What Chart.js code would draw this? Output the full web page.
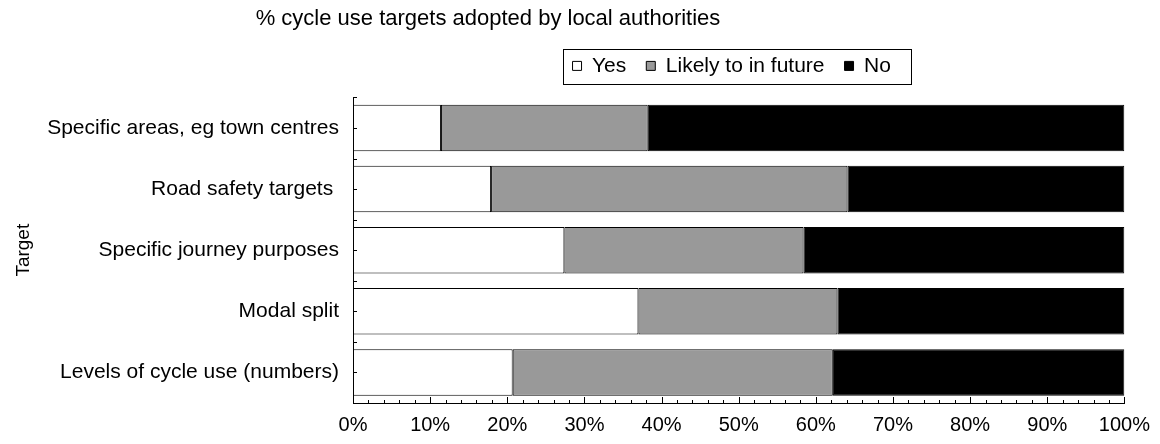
<!DOCTYPE html>
<html>
<head>
<meta charset="utf-8">
<title>Cycle use targets</title>
<script src="https://cdn.jsdelivr.net/npm/chart.js@4/dist/chart.umd.min.js"></script>
<style>
  html, body { margin: 0; padding: 0; background: #fff; }
  #wrap { width: 1160px; height: 444px; }
</style>
</head>
<body>
<div id="wrap"><canvas id="myChart" width="1160" height="444"></canvas></div>
<script>
// targets, top to bottom
const targets = [
    'Specific areas, eg town centres',
    'Road safety targets ',
    'Specific journey purposes',
    'Modal split',
    'Levels of cycle use (numbers)'
];
const yesVals = [11.4, 17.9, 27.4, 37.0, 20.7];
const likelyVals = [26.8, 46.2, 31.0, 25.8, 41.5];
const noVals = [61.8, 35.9, 41.6, 37.2, 37.8];
const pctTicks = [0, 10, 20, 30, 40, 50, 60, 70, 80, 90, 100];

const FAMILY = 'Arial, "Liberation Sans", sans-serif';
const font = size => ({ family: FAMILY, size: size, weight: 'normal' });

// excel style ticks pointing into the plot + box round the legend
const axisDecor = {
    id: 'axisDecor',
    afterLayout(chart) {
        // title sits left of centre
        const t = chart.titleBlock;
        const dx = 488 - (t.left + t.right) / 2;
        t.left += dx;
        t.right += dx;
        // legend nudged up/left inside the gap above the plot
        const lg = chart.legend;
        lg.top -= 11;
        lg.bottom -= 11;
        lg.left -= 7;
        lg.right -= 7;
    },
    afterDraw(chart) {
        const ctx = chart.ctx;
        const x = chart.scales.x, y = chart.scales.y;
        const bottom = chart.chartArea.bottom, left = chart.chartArea.left;
        ctx.save();
        ctx.strokeStyle = '#000';
        ctx.lineWidth = 1;
        ctx.beginPath();
        for (let v = 0; v <= 100; v += 2) {
            const px = Math.round(x.getPixelForValue(v)) + 0.5;
            const len = (v % 10 === 0) ? 6 : 3;
            ctx.moveTo(px, bottom);
            ctx.lineTo(px, bottom - len);
        }
        for (let i = 0; i < targets.length; i++) {
            const c = Math.round(y.getPixelForValue(i)) + 0.5;
            ctx.moveTo(left, c);
            ctx.lineTo(left + 4, c);
            const b = Math.round(y.getPixelForValue(i - 0.5)) + 0.5;
            ctx.moveTo(left, b);
            ctx.lineTo(left + 4, b);
        }
        ctx.stroke();

        const boxes = chart.legend.legendHitBoxes;
        if (boxes && boxes.length) {
            let l = Infinity, r = -Infinity, tp = Infinity, bt = -Infinity;
            boxes.forEach(h => {
                l = Math.min(l, h.left);
                r = Math.max(r, h.left + h.width);
                tp = Math.min(tp, h.top);
                bt = Math.max(bt, h.top + h.height);
            });
            const cy = (tp + bt) / 2;
            ctx.strokeRect(Math.round(l - 10) + 0.5, Math.round(cy - 17) + 0.5,
                Math.round(r - l + 30), 35);
        }
        ctx.restore();
    }
};

const ctx = document.getElementById('myChart');
const myChart = new Chart(ctx, {
    type: 'bar',
    data: {
        labels: targets,
        datasets: [
            { label: 'Yes', data: yesVals, backgroundColor: '#ffffff' },
            { label: 'Likely to in future', data: likelyVals, backgroundColor: '#999999' },
            { label: 'No', data: noVals, backgroundColor: '#000000' }
        ].map(d => Object.assign(d, {
            borderColor: '#000000',
            borderWidth: 1,
            borderSkipped: false,
            barPercentage: 0.76,
            categoryPercentage: 1
        }))
    },
    options: {
        indexAxis: 'y',
        responsive: false,
        animation: false,
        events: [],
        layout: { padding: { left: 0, right: 25, top: 0, bottom: 0 } },
        plugins: {
            title: {
                display: true,
                text: '% cycle use targets adopted by local authorities',
                color: '#000',
                font: font(22),
                padding: { top: 6, bottom: 14 }
            },
            legend: {
                display: true,
                position: 'top',
                fullSize: false,
                labels: {
                    color: '#000',
                    font: font(21),
                    boxWidth: 9,
                    boxHeight: 9,
                    padding: 20
                }
            },
            tooltip: { enabled: false }
        },
        scales: {
            x: {
                stacked: true,
                min: 0,
                max: 100,
                afterBuildTicks: s => { s.ticks = pctTicks.map(v => ({ value: v })); },
                afterFit: s => { s.height = 41; },
                grid: { display: false, drawTicks: false },
                border: { display: true, color: '#000', width: 1 },
                ticks: {
                    color: '#000',
                    font: font(20),
                    padding: 10,
                    maxRotation: 0,
                    callback: v => v + '%'
                }
            },
            y: {
                stacked: true,
                afterFit: s => { s.width = 353; },
                grid: { display: false, drawTicks: false },
                border: { display: true, color: '#000', width: 1 },
                title: {
                    display: true,
                    text: 'Target',
                    color: '#000',
                    font: font(19),
                    padding: { top: 12, bottom: 0 }
                },
                ticks: {
                    color: '#000',
                    font: font(21),
                    padding: 14
                }
            }
        }
    },
    plugins: [axisDecor]
});
</script>
</body>
</html>
